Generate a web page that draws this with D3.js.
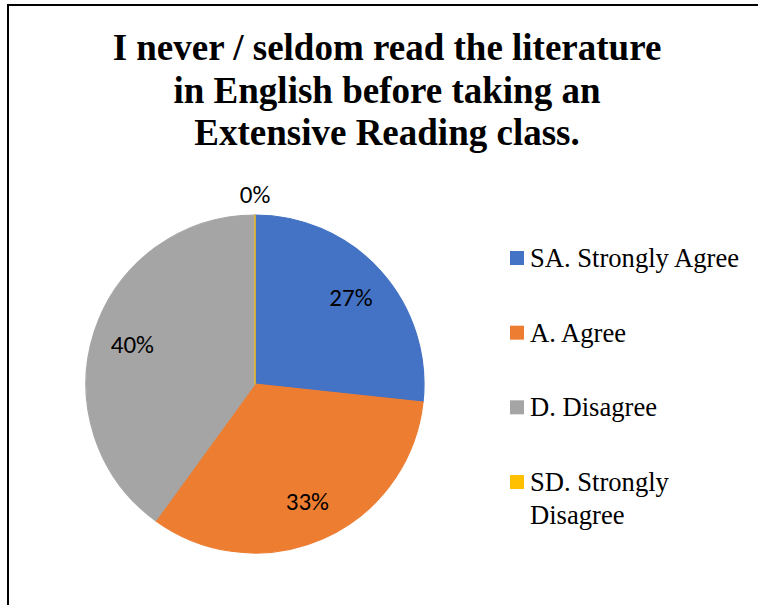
<!DOCTYPE html>
<html>
<head>
<meta charset="utf-8">
<script src="https://cdn.jsdelivr.net/npm/d3@7"></script>
<style>
html,body{margin:0;padding:0;background:#fff;}
svg{display:block;}
</style>
</head>
<body>
<svg id="chart" width="758" height="605"></svg>
<script>
const titleLines = ["I never / seldom read the literature", "in English before taking an", "Extensive Reading class."];
const categories = ["SA. Strongly Agree", "A. Agree", "D. Disagree", "SD. Strongly Disagree"];
const legendLines = [["SA. Strongly Agree"], ["A. Agree"], ["D. Disagree"], ["SD. Strongly", "Disagree"]];
const values = [26.7, 33.3, 40.0, 0];
const colors = ["#4472C4", "#ED7D31", "#A5A5A5", "#FFC000"];

const SERIF = "Liberation Serif";
const SANS = "Carlito";

const svg = d3.select("#chart");
svg.append("rect").attr("width", 758).attr("height", 605).attr("fill", "#fff");
svg.append("rect").attr("x", 8).attr("y", 5).attr("width", 800).attr("height", 700)
  .attr("fill", "none").attr("stroke", "#000").attr("stroke-width", 2);

// Title
const title = svg.append("text")
  .attr("x", 387).attr("y", 60)
  .attr("text-anchor", "middle")
  .attr("font-family", SERIF)
  .attr("font-weight", "bold").attr("font-size", 37).attr("fill", "#000");
title.selectAll("tspan").data(titleLines).join("tspan")
  .attr("x", 387).attr("dy", (d, i) => i === 0 ? 0 : 42.5)
  .attr("font-family", SERIF)
  .text(d => d);

// Pie
const cx = 255, cy = 384, R = 169;
const total = d3.sum(values);
const pie = d3.pie().sort(null).value(d => d);
const arcs = pie(values);
const arc = d3.arc().innerRadius(0).outerRadius(R);
const labelArc = d3.arc().innerRadius(129).outerRadius(129);
const outerLabelArc = d3.arc().innerRadius(190).outerRadius(190);

const g = svg.append("g").attr("transform", `translate(${cx},${cy})`);
g.selectAll("path").data(arcs).join("path")
  .attr("d", arc)
  .attr("fill", (d, i) => colors[i])
  .attr("stroke", (d, i) => colors[i])
  .attr("stroke-width", 1.2)
  .attr("stroke-linejoin", "round");

g.selectAll("text.lbl").data(arcs).join("text")
  .attr("class", "lbl")
  .attr("transform", d => {
    const c = (d.endAngle - d.startAngle) < 0.01 ? outerLabelArc.centroid(d) : labelArc.centroid(d);
    return `translate(${c[0]},${c[1]})`;
  })
  .attr("text-anchor", "middle")
  .attr("dominant-baseline", "central")
  .attr("font-family", SANS)
  .attr("font-size", 25).attr("fill", "#000")
  .text(d => Math.round(d.value / total * 100) + "%");

// Legend
const legY = d3.scalePoint().domain(categories).range([258, 482]);
const lg = svg.append("g");
const items = lg.selectAll("g").data(categories).join("g")
  .attr("transform", d => `translate(510,${legY(d)})`);
items.append("rect").attr("x", 0).attr("y", -7).attr("width", 14).attr("height", 14)
  .attr("fill", (d, i) => colors[i]);
const lt = items.append("text")
  .attr("x", 20).attr("y", 9)
  .attr("font-family", SERIF)
  .attr("font-size", 26.6).attr("fill", "#000");
lt.selectAll("tspan").data((d, i) => legendLines[i]).join("tspan")
  .attr("x", 20).attr("dy", (d, j) => j === 0 ? 0 : 33)
  .attr("font-family", SERIF)
  .text(d => d);
</script>
</body>
</html>
